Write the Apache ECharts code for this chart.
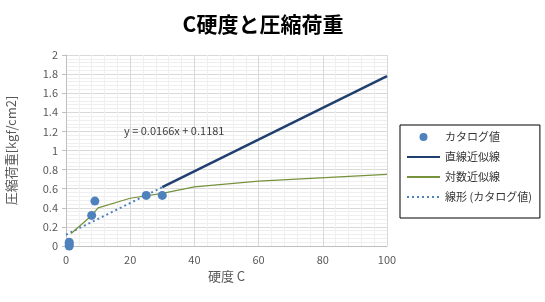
<!DOCTYPE html>
<html><head><meta charset="utf-8">
<script src="https://cdn.jsdelivr.net/npm/echarts@6/dist/echarts.min.js"></script>
<style>html,body{margin:0;padding:0;background:#fff}#c{width:545px;height:302px}</style>
</head><body><div id="c"></div>
<script>
const catX = [1, 1, 1, 8, 9, 25, 30];
const catY = [0.04, 0.02, 0.0, 0.32, 0.47, 0.53, 0.53];
const lineFitX = [30, 100];
const lineFitY = [0.616, 1.778];
const logFitX = [1.6, 8, 10, 20, 30, 40, 60, 100];
const logFitY = [0.13, 0.32, 0.40, 0.50, 0.55, 0.62, 0.68, 0.75];
const trendX = [0, 30];
const trendY = [0.118, 0.616];
const xTicks = [0, 20, 40, 60, 80, 100];
const yTicks = [0, 0.2, 0.4, 0.6, 0.8, 1, 1.2, 1.4, 1.6, 1.8, 2];
const seriesNames = ['カタログ値', '直線近似線', '対数近似線', '線形 (カタログ値)'];
const titleText = 'C硬度と圧縮荷重';
const xName = '硬度 C';
const yName = '圧縮荷重[kgf/cm2]';
const eqText = 'y = 0.0166x + 0.1181';

const zip = (xs, ys) => xs.map((x, i) => [x, ys[i]]);
const FONT = '"Noto Sans CJK JP", "Noto Sans", sans-serif';
const chart = echarts.init(document.getElementById('c'));
chart.setOption({
  animation: false,
  textStyle: { fontFamily: FONT },
  title: {
    text: titleText, left: 258, top: 9, textAlign: 'center',
    textStyle: { fontSize: 21, fontWeight: 'bold', color: '#000', fontFamily: FONT }
  },
  grid: { left: 66, right: 158, top: 55, bottom: 56, containLabel: false, outerBoundsMode: 'none' },
  legend: {
    orient: 'vertical', left: 400, top: 125,
    padding: [5, 8, 14, 6], itemGap: 6, itemWidth: 33, itemHeight: 8,
    borderColor: '#000', borderWidth: 1,
    textStyle: { fontSize: 11, color: '#333', lineHeight: 14, fontFamily: FONT },
    data: [
      { name: seriesNames[0], icon: 'circle' },
      { name: seriesNames[1], itemStyle: { opacity: 0 } },
      { name: seriesNames[2], itemStyle: { opacity: 0 } },
      { name: seriesNames[3], itemStyle: { opacity: 0 } }
    ]
  },
  xAxis: {
    type: 'value', min: 0, max: 100, interval: 20,
    name: xName, nameLocation: 'middle', nameGap: 20,
    nameTextStyle: { fontSize: 13, color: '#595959' },
    axisLine: { show: true, lineStyle: { color: '#BFBFBF' } },
    axisTick: { show: false },
    axisLabel: { fontSize: 11, color: '#595959', margin: 8,
      formatter: v => xTicks.includes(v) ? String(v) : '' },
    splitLine: { show: true, lineStyle: { color: '#D9D9D9' } },
    minorTick: { show: false, splitNumber: 5 },
    minorSplitLine: { show: true, lineStyle: { color: '#EFEFEF' } }
  },
  yAxis: {
    type: 'value', min: 0, max: 2, interval: 0.2,
    name: yName, nameLocation: 'middle', nameGap: 48, nameRotate: 90,
    nameTextStyle: { fontSize: 13, color: '#595959' },
    axisLine: { show: true, lineStyle: { color: '#BFBFBF' } },
    axisTick: { show: true, length: 4, lineStyle: { color: '#BFBFBF' } },
    axisLabel: { fontSize: 11, color: '#595959', margin: 8,
      formatter: v => { const t = yTicks.find(k => Math.abs(k - v) < 1e-9); return t === undefined ? '' : String(t); } },
    splitLine: { show: true, lineStyle: { color: '#D9D9D9' } },
    minorTick: { show: false, splitNumber: 5 },
    minorSplitLine: { show: true, lineStyle: { color: '#EFEFEF' } }
  },
  graphic: [{
    type: 'text', left: 124, top: 125, z: 100,
    style: { text: eqText, fontSize: 11, fill: '#404040', fontFamily: FONT }
  }],
  series: [
    { name: seriesNames[3], type: 'line', data: zip(trendX, trendY), symbol: 'none', z: 3,
      color: '#4F81BD',
      lineStyle: { color: '#4F81BD', width: 2, type: [2, 3] } },
    { name: seriesNames[1], type: 'line', data: zip(lineFitX, lineFitY), symbol: 'none', z: 3,
      color: '#1F3F6E',
      lineStyle: { color: '#1F3F6E', width: 2.5 } },
    { name: seriesNames[2], type: 'line', data: zip(logFitX, logFitY), symbol: 'none', z: 3,
      color: '#76923C',
      lineStyle: { color: '#76923C', width: 1.25 } },
    { name: seriesNames[0], type: 'scatter', data: zip(catX, catY), symbol: 'circle', symbolSize: 9, z: 5,
      itemStyle: { color: '#4F81BD', opacity: 1 } }
  ]
});
</script></body></html>
